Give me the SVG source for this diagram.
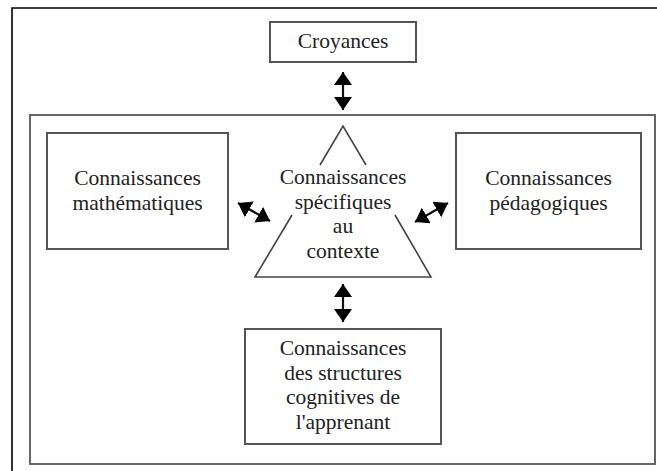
<svg xmlns="http://www.w3.org/2000/svg" width="657" height="471" viewBox="0 0 657 471">
<style>
.box{fill:#fff;stroke:#555;stroke-width:2}
.frame{fill:none;stroke:#666;stroke-width:2}
.tri{fill:none;stroke:#444;stroke-width:1.6}
.t{font-family:"Liberation Serif","Times New Roman",serif;font-size:21.5px;fill:#222;text-anchor:middle}
.arr{stroke:#111;stroke-width:2.2;fill:none;marker-start:url(#ah);marker-end:url(#ah)}
</style>
<defs>
<marker id="ah" markerUnits="userSpaceOnUse" markerWidth="13" markerHeight="18" refX="13" refY="9" orient="auto-start-reverse" viewBox="0 0 13 18">
<path d="M0,0 L13,9 L0,18 z" fill="#000"/>
</marker>
</defs>
<rect width="657" height="471" fill="#fff"/>
<g id="outer-frame">
<path d="M12,471 L12,8 L657,8" fill="none" stroke="#000" stroke-width="1.6"/>
</g>
<g id="inner-frame">
<rect class="frame" x="30" y="115" width="625" height="349"/>
</g>
<g id="croyances">
<rect class="box" x="270" y="22" width="146" height="40"/>
<text class="t" x="343" y="48">Croyances</text>
</g>
<g id="math">
<rect class="box" x="47" y="133" width="181" height="116"/>
<text class="t" x="137.5" y="185">Connaissances</text>
<text class="t" x="137.5" y="210">mathématiques</text>
</g>
<g id="peda">
<rect class="box" x="456" y="133" width="185" height="116"/>
<text class="t" x="548.5" y="185">Connaissances</text>
<text class="t" x="548.5" y="210">pédagogiques</text>
</g>
<g id="contexte">
<path class="tri" d="M320,165 L343,126 L366,165 M292,215 L255,277 L431,277 L395,215"/>
<text class="t" x="343" y="184">Connaissances</text>
<text class="t" x="343" y="208.5">spécifiques</text>
<text class="t" x="343" y="233">au</text>
<text class="t" x="343" y="257.5">contexte</text>
</g>
<g id="apprenant">
<rect class="box" x="245" y="329" width="196" height="115"/>
<text class="t" x="343" y="355">Connaissances</text>
<text class="t" x="343" y="379.5">des structures</text>
<text class="t" x="343" y="404">cognitives de</text>
<text class="t" x="343" y="428.5">l'apprenant</text>
</g>
<g id="connectors">
<line class="arr" x1="343" y1="72" x2="343" y2="110"/>
<line class="arr" x1="343" y1="284" x2="343" y2="322"/>
<line class="arr" x1="238" y1="203" x2="270" y2="221"/>
<line class="arr" x1="415" y1="222" x2="448" y2="203"/>
</g>
</svg>
